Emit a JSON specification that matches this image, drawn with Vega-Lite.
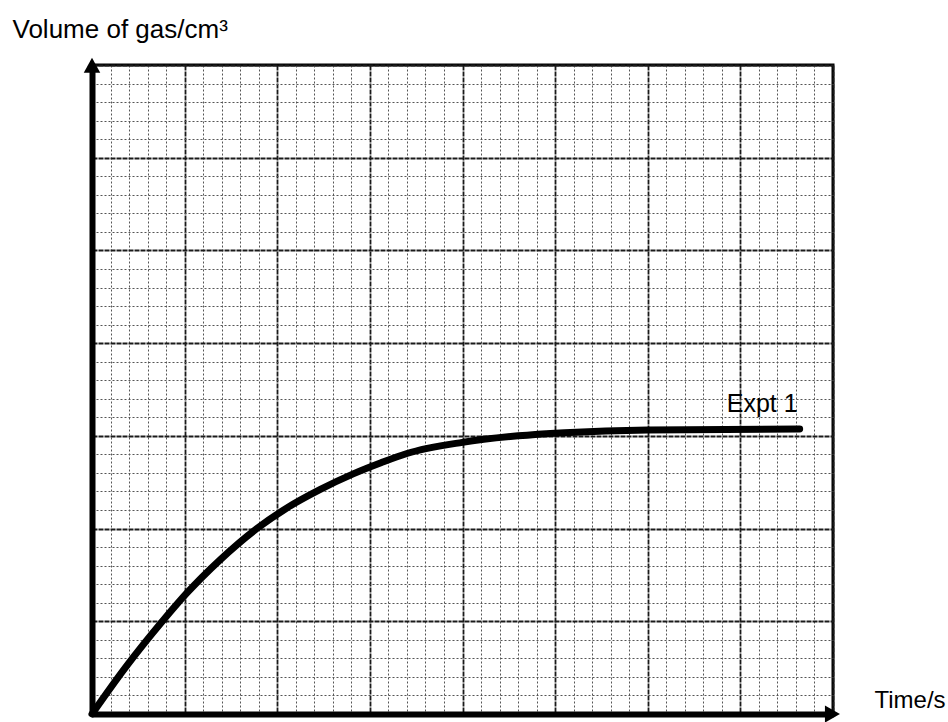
{
  "$schema": "https://vega.github.io/schema/vega-lite/v6.json",
  "autosize": "none",
  "width": 741,
  "height": 649,
  "padding": {"left": 92, "top": 65, "right": 115, "bottom": 8},
  "background": "white",
  "config": {
    "font": "Liberation Sans",
    "view": {"stroke": "black", "strokeWidth": 3}
  },
  "datasets": {
    "curve": [
      {"t": 0, "v": 0},
      {"t": 1.8, "v": 2.5},
      {"t": 3.8, "v": 5.0},
      {"t": 5.1, "v": 6.5},
      {"t": 6.9, "v": 8.3},
      {"t": 8.9, "v": 10.0},
      {"t": 10.5, "v": 11.1},
      {"t": 12.3, "v": 12.1},
      {"t": 14.1, "v": 12.95},
      {"t": 15.6, "v": 13.55},
      {"t": 17.0, "v": 14.05},
      {"t": 20.0, "v": 14.65},
      {"t": 23.0, "v": 15.0},
      {"t": 25.5, "v": 15.17},
      {"t": 30.0, "v": 15.32},
      {"t": 38.2, "v": 15.37, "label": "Expt 1"}
    ],
    "arrows": [
      {"t": 0, "v": 34.98, "dir": "up"},
      {"t": 39.97, "v": 0, "dir": "right"}
    ]
  },
  "layer": [
    {
      "data": {"name": "curve"},
      "mark": {"type": "line", "color": "black", "strokeWidth": 7, "interpolate": "monotone", "strokeCap": "round"},
      "encoding": {
        "x": {
          "field": "t", "type": "quantitative",
          "scale": {"domain": [0, 40], "nice": false, "zero": false},
          "axis": {
            "values": [0,1,2,3,4,5,6,7,8,9,10,11,12,13,14,15,16,17,18,19,20,21,22,23,24,25,26,27,28,29,30,31,32,33,34,35,36,37,38,39,40],
            "tickCount": 200,
            "labels": false, "ticks": false,
            "domainColor": "black", "domainWidth": 6,
            "grid": true,
            "gridColor": {"condition": {"test": "datum.value % 5 === 0", "value": "#1a1a1a"}, "value": "#555"},
            "gridWidth": {"condition": {"test": "datum.value % 5 === 0", "value": 1.8}, "value": 1},
            "gridDash": {"condition": {"test": "datum.value % 5 === 0", "value": [5, 1]}, "value": [2, 2]},
            "title": "Time/s",
            "titleFont": "Liberation Sans",
            "titleFontSize": 24,
            "titleFontWeight": "normal",
            "titleColor": "black",
            "titleAlign": "left",
            "titleBaseline": "alphabetic",
            "titleAnchor": null,
            "titleX": 782,
            "titleY": -7
          }
        },
        "y": {
          "field": "v", "type": "quantitative",
          "scale": {"domain": [0, 35], "nice": false, "zero": false},
          "axis": {
            "values": [0,1,2,3,4,5,6,7,8,9,10,11,12,13,14,15,16,17,18,19,20,21,22,23,24,25,26,27,28,29,30,31,32,33,34,35],
            "tickCount": 200,
            "labels": false, "ticks": false,
            "domainColor": "black", "domainWidth": 6,
            "grid": true,
            "gridColor": {"condition": {"test": "datum.value % 5 === 0", "value": "#1a1a1a"}, "value": "#555"},
            "gridWidth": {"condition": {"test": "datum.value % 5 === 0", "value": 1.8}, "value": 1},
            "gridDash": {"condition": {"test": "datum.value % 5 === 0", "value": [5, 1]}, "value": [2, 2]},
            "title": "Volume of gas/cm³",
            "titleFont": "Liberation Sans",
            "titleFontSize": 26,
            "titleFontWeight": "normal",
            "titleColor": "black",
            "titleAngle": 0,
            "titleAlign": "left",
            "titleBaseline": "alphabetic",
            "titleAnchor": null,
            "titleX": -80,
            "titleY": -28
          }
        }
      }
    },
    {
      "data": {"name": "curve"},
      "transform": [{"filter": "isValid(datum.label)"}],
      "mark": {"type": "text", "align": "right", "baseline": "alphabetic", "dx": -2, "dy": -17, "fontSize": 25, "font": "Liberation Sans", "color": "black"},
      "encoding": {
        "x": {"field": "t", "type": "quantitative"},
        "y": {"field": "v", "type": "quantitative"},
        "text": {"field": "label"}
      }
    },
    {
      "data": {"name": "arrows"},
      "transform": [{"filter": "datum.dir === 'up'"}],
      "mark": {"type": "point", "shape": "M0,-1 L-1.1,1 L1.1,1 Z", "filled": true, "color": "black", "opacity": 1, "size": 225, "strokeWidth": 0},
      "encoding": {
        "x": {"field": "t", "type": "quantitative"},
        "y": {"field": "v", "type": "quantitative"}
      }
    },
    {
      "data": {"name": "arrows"},
      "transform": [{"filter": "datum.dir === 'right'"}],
      "mark": {"type": "point", "shape": "M1,0 L-1,-1.15 L-1,1.15 Z", "filled": true, "color": "black", "opacity": 1, "size": 225, "strokeWidth": 0},
      "encoding": {
        "x": {"field": "t", "type": "quantitative"},
        "y": {"field": "v", "type": "quantitative"}
      }
    }
  ]
}
